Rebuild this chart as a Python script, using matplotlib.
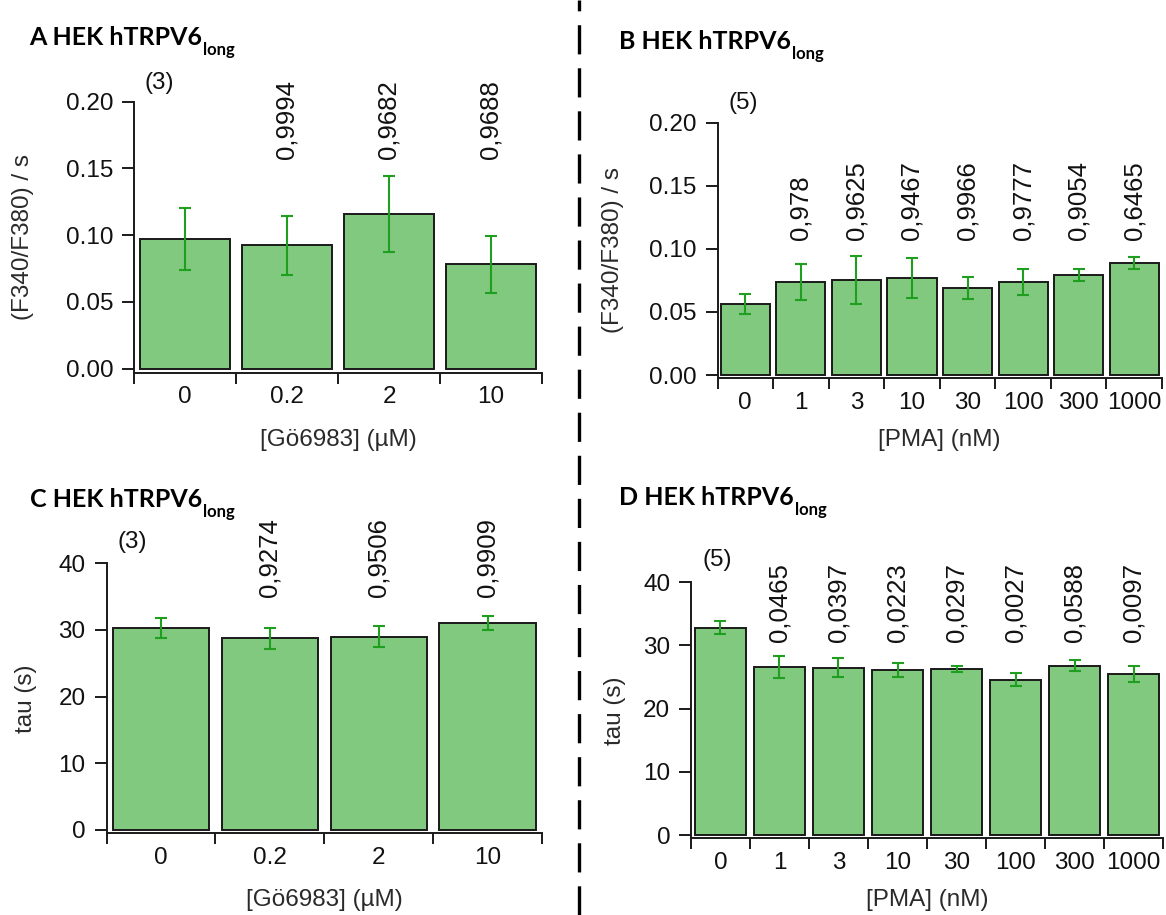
import matplotlib
matplotlib.use("Agg")
import matplotlib.pyplot as plt
from matplotlib.lines import Line2D
from matplotlib.ticker import FixedLocator, FixedFormatter, NullFormatter, FormatStrFormatter

# ---- data -------------------------------------------------------------
go_doses = ['0', '0.2', '2', '10']
pma_doses = ['0', '1', '3', '10', '30', '100', '300', '1000']

rate_go = [0.097, 0.0923, 0.1159, 0.0781]
rate_go_sem = [0.0235, 0.022, 0.0284, 0.0214]
rate_go_p = ['', '0,9994', '0,9682', '0,9688']

rate_pma = [0.0563, 0.0735, 0.0753, 0.0767, 0.069, 0.0735, 0.079, 0.0888]
rate_pma_sem = [0.0077, 0.0143, 0.019, 0.0157, 0.0086, 0.0104, 0.0047, 0.0046]
rate_pma_p = ['', '0,978', '0,9625', '0,9467', '0,9966', '0,9777', '0,9054', '0,6465']

tau_go = [30.35, 28.75, 29.0, 31.05]
tau_go_sem = [1.5, 1.6, 1.55, 1.1]
tau_go_p = ['', '0,9274', '0,9506', '0,9909']

tau_pma = [32.8, 26.6, 26.5, 26.1, 26.3, 24.6, 26.8, 25.5]
tau_pma_sem = [1.05, 1.75, 1.45, 1.1, 0.5, 1.05, 0.9, 1.25]
tau_pma_p = ['', '0,0465', '0,0397', '0,0223', '0,0297', '0,0027', '0,0588', '0,0097']

# ---- style ------------------------------------------------------------
W, H = 1166, 915
FILL = '#80c97e'
ERR = '#1f9e1f'
INK = '#1a1a1a'
FS = 17.5      # tick and axis labels
FS_P = 18.5    # rotated p-values
plt.rcParams['font.family'] = ['Liberation Sans', 'DejaVu Sans']
plt.rcParams['lines.scale_dashes'] = False

fig = plt.figure(figsize=(W / 100, H / 100), dpi=100)


def px_axes(left, right, top, bottom):
    return fig.add_axes([left / W, 1 - bottom / H, (right - left) / W, (bottom - top) / H])


def panel(box, y0_px, labels, vals, sem, pvals, ymax, ystep, yfmt, ylab, xlab, xlab_y,
          p_base, n_text, n_pos, ylab_x, bar_w, title, title_xy):
    left, right, top, bottom = box
    ax = px_axes(left, right, top, bottom)
    n = len(labels)
    x = list(range(n))
    px_per_unit = (y0_px - top) / ymax
    ax.set_ylim(-(bottom - y0_px) / px_per_unit, ymax)
    ax.set_xlim(-0.5, n - 0.5)

    ax.bar(x, vals, width=bar_w, color=FILL, edgecolor=INK, linewidth=1.4, zorder=2)
    ax.errorbar(x, vals, yerr=sem, fmt='none', ecolor=ERR, elinewidth=1.5,
                capsize=4.5, capthick=1.5, zorder=3)

    for sp in ('top', 'right'):
        ax.spines[sp].set_visible(False)
    for sp in ('left', 'bottom'):
        ax.spines[sp].set_linewidth(1.4)
        ax.spines[sp].set_color(INK)

    # y axis
    yt = [i * ystep for i in range(int(round(ymax / ystep)) + 1)]
    ax.set_yticks(yt)
    ax.yaxis.set_major_formatter(FormatStrFormatter(yfmt))
    ax.tick_params(axis='y', direction='out', length=9, width=1.4, color=INK,
                   labelsize=FS, pad=6, labelcolor='#111111')

    # x axis: ticks between categories, labels at category centres
    ax.xaxis.set_major_locator(FixedLocator([i - 0.5 for i in range(n + 1)]))
    ax.xaxis.set_major_formatter(NullFormatter())
    ax.xaxis.set_minor_locator(FixedLocator(x))
    ax.xaxis.set_minor_formatter(FixedFormatter(labels))
    ax.tick_params(axis='x', which='major', direction='out', length=8, width=1.4, color=INK)
    ax.tick_params(axis='x', which='minor', length=0, labelsize=FS, pad=10,
                   labelcolor='#111111')

    ax.set_ylabel(ylab, fontsize=FS, color='#2a2a2a', va='center')
    ax.yaxis.set_label_coords(ylab_x, 0.5)
    ax.set_xlabel(xlab, fontsize=FS, color='#2a2a2a', va='center')
    ax.xaxis.set_label_coords(0.5, -(xlab_y - bottom) / (bottom - top))

    for xi, p in zip(x, pvals):
        if p:
            ax.text(xi, p_base, p, rotation=90, ha='center', va='bottom',
                    fontsize=FS_P, color='#111111', clip_on=False)
    ax.text(n_pos[0], n_pos[1], n_text, ha='center', va='center', fontsize=FS,
            color='#111111', clip_on=False)

    t = fig.text(title_xy[0] / W, 1 - title_xy[1] / H, title,
                 family=['Lato', 'DejaVu Sans'], fontweight='bold', fontsize=18,
                 ha='left', va='baseline', color='black')
    ax.annotate('long', xy=(1, 0), xycoords=t, xytext=(1, -4), textcoords='offset points',
                family=['Lato', 'DejaVu Sans'], fontweight='bold', fontsize=12,
                ha='left', va='baseline', color='black', annotation_clip=False)
    return ax


boxA = (134, 542, 101.7, 372.5)
panel(boxA, 368.5, go_doses, rate_go, rate_go_sem, rate_go_p, 0.20, 0.05, '%.2f',
      '(F340/F380) / s', '[Gö6983] (µM)', 440, 0.157, '(3)', (-0.25, 0.2138),
      -0.272, 0.885, 'A HEK hTRPV6', (29, 45))

boxB = (717.5, 1162, 122.7, 377.7)
panel(boxB, 375, pma_doses, rate_pma, rate_pma_sem, rate_pma_p, 0.20, 0.05, '%.2f',
      '(F340/F380) / s', '[PMA] (nM)', 440, 0.107, '(5)', (-0.04, 0.2154),
      -0.234, 0.885, 'B HEK hTRPV6', (619, 49))

boxC = (106.5, 542, 563.3, 833.3)
panel(boxC, 830, go_doses, tau_go, tau_go_sem, tau_go_p, 40, 10, '%d',
      'tau (s)', '[Gö6983] (µM)', 900, 35.0, '(3)', (-0.262, 43.2),
      -0.185, 0.885, 'C HEK hTRPV6', (29.6, 507))

boxD = (691, 1163, 582.3, 838.3)
panel(boxD, 835, pma_doses, tau_pma, tau_pma_sem, tau_pma_p, 40, 10, '%d',
      'tau (s)', '[PMA] (nM)', 900, 30.6, '(5)', (-0.063, 43.5),
      -0.16, 0.87, 'D HEK hTRPV6', (619, 505))

# dashed divider between the left and right columns
fig.add_artist(Line2D([579 / W, 579 / W], [0, 1], transform=fig.transFigure,
                      color='black', linewidth=2.4, dashes=(21, 10)))

fig.savefig('out.png', dpi=100)
